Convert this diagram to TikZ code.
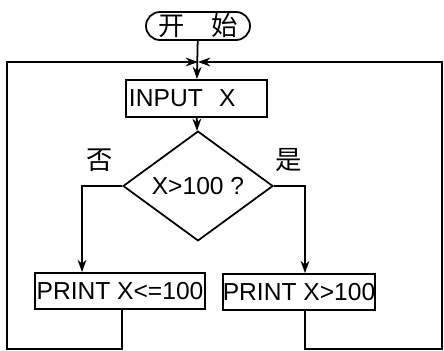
\documentclass[tikz,border=0pt]{standalone}
\usepackage{fontspec}
\setmainfont{Liberation Sans}
\newfontfamily\cjk{Noto Sans CJK SC}
\usepackage{tikz}
\usetikzlibrary{arrows.meta,shapes.geometric,shapes.misc}

\newlength{\xunit}
\setlength{\xunit}{0.02cm}
\tikzset{
  flowbox/.style={draw,line width=1pt,rectangle,inner sep=0pt,font=\fontsize{14}{16}\selectfont},
  termbox/.style={draw,line width=1pt,rounded rectangle,inner sep=0pt,minimum width=104\xunit,minimum height=28\xunit,font=\cjk\fontsize{15}{17}\selectfont},
  testbox/.style={draw,line width=1pt,diamond,inner sep=0pt,font=\fontsize{14}{16}\selectfont},
  flow/.style={line width=1pt,-{Stealth[length=7pt,width=5pt]}},
  link/.style={line width=1pt}
}

\begin{document}
\begin{tikzpicture}[x=0.02cm,y=-0.02cm]
    \useasboundingbox (0,0) rectangle (444,351);

    % Boxes
    \node[termbox] (start) at (198,26) {开\quad 始};
    \node[flowbox,minimum width=141\xunit,minimum height=37\xunit,text width=135\xunit] (input) at (196.5,98.5) {INPUT\ \ X};
    \node[testbox,minimum width=150\xunit,minimum height=76\xunit] (test) at (198,186) {X>100 ?};
    \node[flowbox,minimum width=170\xunit,minimum height=36\xunit] (printno) at (120,291) {PRINT X<=100};
    \node[flowbox,minimum width=138\xunit,minimum height=36\xunit] (printyes) at (299,292) {PRINT X>100};

    % Branch labels
    \node[font=\cjk\fontsize{15}{17}\selectfont] (no) at (100,160) {否};
    \node[font=\cjk\fontsize{15}{17}\selectfont] (yes) at (289,160) {是};

    % Guide points
    \coordinate (join) at (198,62);
    \coordinate (noturn) at (82,186);
    \coordinate (yesturn) at (305,186);
    \coordinate (noout) at (122,309);
    \coordinate (yesout) at (305,310);

    % Main flow
    \draw[flow] (start) -- (input);
    \draw[flow] (input) -- (test);
    \draw[flow] (test.west) -- (noturn) -- (noturn |- printno.north);
    \draw[flow] (test.east) -- (yesturn) -- (yesturn |- printyes.north);

    % Loop back
    \draw[flow] (noout) -- (122,349) -- (7,349) -- (7,62) -- (join);
    \draw[flow] (yesout) -- (305,349) -- (442,349) -- (442,62) -- (join);
\end{tikzpicture}
\end{document}
